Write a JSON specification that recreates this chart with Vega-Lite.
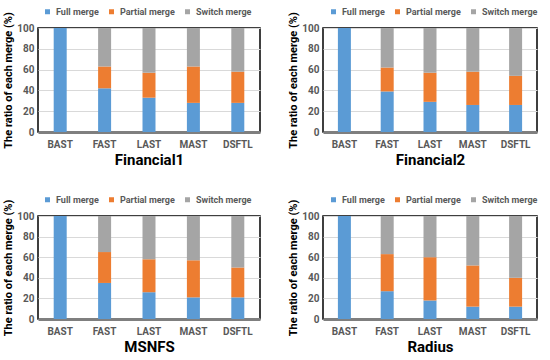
{
  "$schema": "https://vega.github.io/schema/vega-lite/v6.json",
  "padding": {"left": 2, "top": 6, "right": 2, "bottom": 4},
  "background": "white",
  "data": {"values": [
    {"dataset": "Financial1", "ftl": "BAST", "type": "Full merge", "value": 100},
    {"dataset": "Financial1", "ftl": "FAST", "type": "Full merge", "value": 42},
    {"dataset": "Financial1", "ftl": "FAST", "type": "Partial merge", "value": 21},
    {"dataset": "Financial1", "ftl": "FAST", "type": "Switch merge", "value": 37},
    {"dataset": "Financial1", "ftl": "LAST", "type": "Full merge", "value": 33},
    {"dataset": "Financial1", "ftl": "LAST", "type": "Partial merge", "value": 24},
    {"dataset": "Financial1", "ftl": "LAST", "type": "Switch merge", "value": 43},
    {"dataset": "Financial1", "ftl": "MAST", "type": "Full merge", "value": 28},
    {"dataset": "Financial1", "ftl": "MAST", "type": "Partial merge", "value": 35},
    {"dataset": "Financial1", "ftl": "MAST", "type": "Switch merge", "value": 37},
    {"dataset": "Financial1", "ftl": "DSFTL", "type": "Full merge", "value": 28},
    {"dataset": "Financial1", "ftl": "DSFTL", "type": "Partial merge", "value": 30},
    {"dataset": "Financial1", "ftl": "DSFTL", "type": "Switch merge", "value": 42},
    {"dataset": "Financial2", "ftl": "BAST", "type": "Full merge", "value": 100},
    {"dataset": "Financial2", "ftl": "FAST", "type": "Full merge", "value": 39},
    {"dataset": "Financial2", "ftl": "FAST", "type": "Partial merge", "value": 23},
    {"dataset": "Financial2", "ftl": "FAST", "type": "Switch merge", "value": 38},
    {"dataset": "Financial2", "ftl": "LAST", "type": "Full merge", "value": 29},
    {"dataset": "Financial2", "ftl": "LAST", "type": "Partial merge", "value": 28},
    {"dataset": "Financial2", "ftl": "LAST", "type": "Switch merge", "value": 43},
    {"dataset": "Financial2", "ftl": "MAST", "type": "Full merge", "value": 26},
    {"dataset": "Financial2", "ftl": "MAST", "type": "Partial merge", "value": 32},
    {"dataset": "Financial2", "ftl": "MAST", "type": "Switch merge", "value": 42},
    {"dataset": "Financial2", "ftl": "DSFTL", "type": "Full merge", "value": 26},
    {"dataset": "Financial2", "ftl": "DSFTL", "type": "Partial merge", "value": 28},
    {"dataset": "Financial2", "ftl": "DSFTL", "type": "Switch merge", "value": 46},
    {"dataset": "MSNFS", "ftl": "BAST", "type": "Full merge", "value": 100},
    {"dataset": "MSNFS", "ftl": "FAST", "type": "Full merge", "value": 35},
    {"dataset": "MSNFS", "ftl": "FAST", "type": "Partial merge", "value": 30},
    {"dataset": "MSNFS", "ftl": "FAST", "type": "Switch merge", "value": 35},
    {"dataset": "MSNFS", "ftl": "LAST", "type": "Full merge", "value": 26},
    {"dataset": "MSNFS", "ftl": "LAST", "type": "Partial merge", "value": 32},
    {"dataset": "MSNFS", "ftl": "LAST", "type": "Switch merge", "value": 42},
    {"dataset": "MSNFS", "ftl": "MAST", "type": "Full merge", "value": 21},
    {"dataset": "MSNFS", "ftl": "MAST", "type": "Partial merge", "value": 36},
    {"dataset": "MSNFS", "ftl": "MAST", "type": "Switch merge", "value": 43},
    {"dataset": "MSNFS", "ftl": "DSFTL", "type": "Full merge", "value": 21},
    {"dataset": "MSNFS", "ftl": "DSFTL", "type": "Partial merge", "value": 29},
    {"dataset": "MSNFS", "ftl": "DSFTL", "type": "Switch merge", "value": 50},
    {"dataset": "Radius", "ftl": "BAST", "type": "Full merge", "value": 100},
    {"dataset": "Radius", "ftl": "FAST", "type": "Full merge", "value": 27},
    {"dataset": "Radius", "ftl": "FAST", "type": "Partial merge", "value": 36},
    {"dataset": "Radius", "ftl": "FAST", "type": "Switch merge", "value": 37},
    {"dataset": "Radius", "ftl": "LAST", "type": "Full merge", "value": 18},
    {"dataset": "Radius", "ftl": "LAST", "type": "Partial merge", "value": 42},
    {"dataset": "Radius", "ftl": "LAST", "type": "Switch merge", "value": 40},
    {"dataset": "Radius", "ftl": "MAST", "type": "Full merge", "value": 12},
    {"dataset": "Radius", "ftl": "MAST", "type": "Partial merge", "value": 40},
    {"dataset": "Radius", "ftl": "MAST", "type": "Switch merge", "value": 48},
    {"dataset": "Radius", "ftl": "DSFTL", "type": "Full merge", "value": 12},
    {"dataset": "Radius", "ftl": "DSFTL", "type": "Partial merge", "value": 28},
    {"dataset": "Radius", "ftl": "DSFTL", "type": "Switch merge", "value": 60}
  ]},
  "columns": 2,
  "spacing": {"column": 26, "row": 26},
  "align": "each",
  "resolve": {"scale": {"color": "independent"}, "legend": {"color": "independent"}},
  "concat": [
    {
      "width": 222, "height": 104,
      "transform": [{"filter": "datum.dataset === 'Financial1'"}],
      "mark": {"type": "bar", "size": 13},
      "encoding": {
        "x": {"field": "ftl", "type": "nominal", "sort": ["BAST", "FAST", "LAST", "MAST", "DSFTL"], "axis": {"title": "Financial1", "labelAngle": 0}},
        "y": {"field": "value", "type": "quantitative", "stack": "zero", "scale": {"domain": [0, 100]}, "axis": {"title": "The ratio of each merge (%)", "values": [0, 20, 40, 60, 80, 100]}},
        "order": {"field": "type", "sort": "ascending"},
        "color": {"field": "type", "type": "nominal", "scale": {"domain": ["Full merge", "Partial merge", "Switch merge"], "range": ["#5B9BD5", "#ED7D31", "#A5A5A5"]}, "legend": {"orient": "none", "legendX": 5, "legendY": -21, "direction": "horizontal", "title": null}}
      }
    },
    {
      "width": 214, "height": 104,
      "transform": [{"filter": "datum.dataset === 'Financial2'"}],
      "mark": {"type": "bar", "size": 13},
      "encoding": {
        "x": {"field": "ftl", "type": "nominal", "sort": ["BAST", "FAST", "LAST", "MAST", "DSFTL"], "axis": {"title": "Financial2", "labelAngle": 0}},
        "y": {"field": "value", "type": "quantitative", "stack": "zero", "scale": {"domain": [0, 100]}, "axis": {"title": "The ratio of each merge (%)", "values": [0, 20, 40, 60, 80, 100]}},
        "order": {"field": "type", "sort": "ascending"},
        "color": {"field": "type", "type": "nominal", "scale": {"domain": ["Full merge", "Partial merge", "Switch merge"], "range": ["#5B9BD5", "#ED7D31", "#A5A5A5"]}, "legend": {"orient": "none", "legendX": 6, "legendY": -21, "direction": "horizontal", "title": null}}
      }
    },
    {
      "width": 222, "height": 103,
      "transform": [{"filter": "datum.dataset === 'MSNFS'"}],
      "mark": {"type": "bar", "size": 13},
      "encoding": {
        "x": {"field": "ftl", "type": "nominal", "sort": ["BAST", "FAST", "LAST", "MAST", "DSFTL"], "axis": {"title": "MSNFS", "labelAngle": 0}},
        "y": {"field": "value", "type": "quantitative", "stack": "zero", "scale": {"domain": [0, 100]}, "axis": {"title": "The ratio of each merge (%)", "values": [0, 20, 40, 60, 80, 100]}},
        "order": {"field": "type", "sort": "ascending"},
        "color": {"field": "type", "type": "nominal", "scale": {"domain": ["Full merge", "Partial merge", "Switch merge"], "range": ["#5B9BD5", "#ED7D31", "#A5A5A5"]}, "legend": {"orient": "none", "legendX": 5, "legendY": -21, "direction": "horizontal", "title": null}}
      }
    },
    {
      "width": 214, "height": 103,
      "transform": [{"filter": "datum.dataset === 'Radius'"}],
      "mark": {"type": "bar", "size": 13},
      "encoding": {
        "x": {"field": "ftl", "type": "nominal", "sort": ["BAST", "FAST", "LAST", "MAST", "DSFTL"], "axis": {"title": "Radius", "labelAngle": 0}},
        "y": {"field": "value", "type": "quantitative", "stack": "zero", "scale": {"domain": [0, 100]}, "axis": {"title": "The ratio of each merge (%)", "values": [0, 20, 40, 60, 80, 100]}},
        "order": {"field": "type", "sort": "ascending"},
        "color": {"field": "type", "type": "nominal", "scale": {"domain": ["Full merge", "Partial merge", "Switch merge"], "range": ["#5B9BD5", "#ED7D31", "#A5A5A5"]}, "legend": {"orient": "none", "legendX": 6, "legendY": -21, "direction": "horizontal", "title": null}}
      }
    }
  ],
  "config": {
    "font": "Roboto",
    "view": {"stroke": "black", "strokeWidth": 1.5},
    "axis": {"labelFont": "Roboto", "titleFont": "Roboto", "labelColor": "#595959", "labelFontSize": 10, "labelFontWeight": "bold", "ticks": false, "gridColor": "#d9d9d9", "gridWidth": 1.2},
    "axisX": {"domainColor": "#7f7f7f", "domainWidth": 3, "grid": false, "titleFontSize": 15, "titleFontWeight": "bold", "titleColor": "black", "labelPadding": 7, "titlePadding": 3},
    "axisY": {"domain": false, "titleFontSize": 11, "titleFontWeight": "bold", "titleColor": "black", "labelPadding": 4, "titlePadding": 3},
    "legend": {"symbolType": "square", "symbolSize": 25, "labelFontSize": 9, "labelFontWeight": "bold", "labelColor": "#595959", "labelFont": "Roboto", "columnPadding": 8, "labelOffset": 4, "symbolOffset": 0}
  }
}
